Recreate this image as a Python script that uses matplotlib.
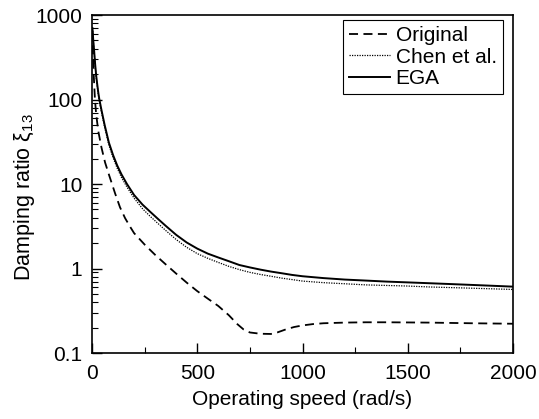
import matplotlib
matplotlib.use("Agg")
import matplotlib.pyplot as plt
import numpy as np
from matplotlib.ticker import FixedLocator, FuncFormatter, MultipleLocator, LogLocator, NullFormatter

plt.rcParams['font.family'] = ['Liberation Sans', 'DejaVu Sans']
plt.rcParams['mathtext.fontset'] = 'custom'
plt.rcParams['mathtext.rm'] = 'Liberation Sans'
plt.rcParams['mathtext.it'] = 'Liberation Sans:italic'

# Data
orig_x = [2, 5, 8, 11, 14, 20, 30, 45, 62, 80, 95, 110, 133, 157, 180, 200, 250, 300, 350, 400,
          450, 500, 550, 600, 650, 690, 720, 750, 800, 850, 880, 920, 960, 1000, 1050, 1100,
          1200, 1300, 1400, 1600, 1800, 2000]
orig_y = [650, 320, 200, 140, 100, 66, 42, 27, 18, 13, 10, 7.7, 5.3, 3.95, 3.15, 2.62, 1.92, 1.45, 1.12, 0.87,
          0.68, 0.54, 0.44, 0.36, 0.28, 0.22, 0.19, 0.175, 0.169, 0.168, 0.175, 0.19, 0.203, 0.212, 0.22, 0.225,
          0.229, 0.231, 0.231, 0.229, 0.225, 0.222]

chen_x = [2, 6, 10, 15, 20, 25, 30, 35, 45, 60, 80, 100, 120, 140, 166, 200, 240, 276, 314, 350, 400,
          450, 500, 550, 600, 650, 700, 750, 800, 850, 900, 950, 1000, 1100, 1200, 1300, 1400, 1500,
          1600, 1700, 1800, 1900, 2000]
chen_y = [700, 490, 370, 250, 182, 143, 114, 95, 71, 47, 29, 20.5, 15.3, 12, 9.2, 6.8, 5.1, 4.15, 3.4, 2.82, 2.2,
          1.78, 1.5, 1.32, 1.18, 1.06, 0.97, 0.9, 0.85, 0.81, 0.77, 0.74, 0.71, 0.68, 0.66, 0.64, 0.63, 0.62,
          0.605, 0.595, 0.585, 0.575, 0.565]

ega_x = [2, 6, 10, 15, 20, 25, 30, 35, 45, 60, 80, 100, 120, 140, 166, 200, 240, 276, 314, 350, 400,
         450, 500, 550, 600, 650, 700, 750, 800, 850, 900, 950, 1000, 1100, 1200, 1300, 1400, 1500,
         1600, 1700, 1800, 1900, 2000]
ega_y = [700, 500, 380, 260, 190, 150, 120, 100, 75, 50, 31, 22, 16.5, 13, 10, 7.4, 5.7, 4.7, 3.85, 3.2, 2.5,
         2.03, 1.72, 1.5, 1.35, 1.22, 1.1, 1.03, 0.97, 0.92, 0.88, 0.84, 0.81, 0.77, 0.74, 0.72, 0.70, 0.685,
         0.67, 0.655, 0.64, 0.625, 0.61]

y_ticks = [0.1, 1, 10, 100, 1000]
y_tick_labels = ["0.1", "1", "10", "100", "1000"]
x_ticks = [0, 500, 1000, 1500, 2000]

fig = plt.figure(figsize=(5.39, 4.19), dpi=100)
ax = fig.add_axes([0.1707, 0.1575, 0.7811, 0.8067])

ax.plot(orig_x, orig_y, color='black', linestyle=(0, (5, 3)), linewidth=1.3, label='Original')
ax.plot(chen_x, chen_y, color='black', linestyle=(0, (1, 1)), linewidth=0.9, label='Chen et al.')
ax.plot(ega_x, ega_y, color='black', linestyle='-', linewidth=1.4, label='EGA')

ax.set_yscale('log')
ax.set_xlim(0, 2000)
ax.set_ylim(0.1, 1000)
ax.yaxis.set_major_locator(FixedLocator(y_ticks))
ax.yaxis.set_major_formatter(FuncFormatter(lambda v, p: y_tick_labels[y_ticks.index(v)] if v in y_ticks else ""))
ax.yaxis.set_minor_locator(LogLocator(base=10, subs=np.arange(2, 10)))
ax.yaxis.set_minor_formatter(NullFormatter())
ax.xaxis.set_major_locator(FixedLocator(x_ticks))
ax.xaxis.set_minor_locator(MultipleLocator(250))

ax.tick_params(which='both', direction='in', top=False, right=False, labelsize=15)
ax.tick_params(axis='x', which='major', pad=8)
ax.tick_params(axis='y', which='major', pad=7)
ax.tick_params(which='major', length=7, width=1)
ax.tick_params(which='minor', length=4, width=0.8)
for s in ax.spines.values():
    s.set_linewidth(1.2)

ax.set_xlabel('Operating speed (rad/s)', fontsize=15, labelpad=5)
ax.set_ylabel(r'Damping ratio ξ$_{13}$', fontsize=15.5)
ax.yaxis.set_label_coords(-0.131, 0.46)

leg = ax.legend(loc='upper right', bbox_to_anchor=(503 / 539, 1 - 20 / 419),
                bbox_transform=fig.transFigure, fontsize=15, frameon=True, fancybox=False,
                edgecolor='black', framealpha=1, handlelength=2.0, handletextpad=0.25,
                borderpad=0.3, labelspacing=0.12, borderaxespad=0)
leg.get_frame().set_linewidth(0.8)

fig.savefig('out.png', dpi=100)
